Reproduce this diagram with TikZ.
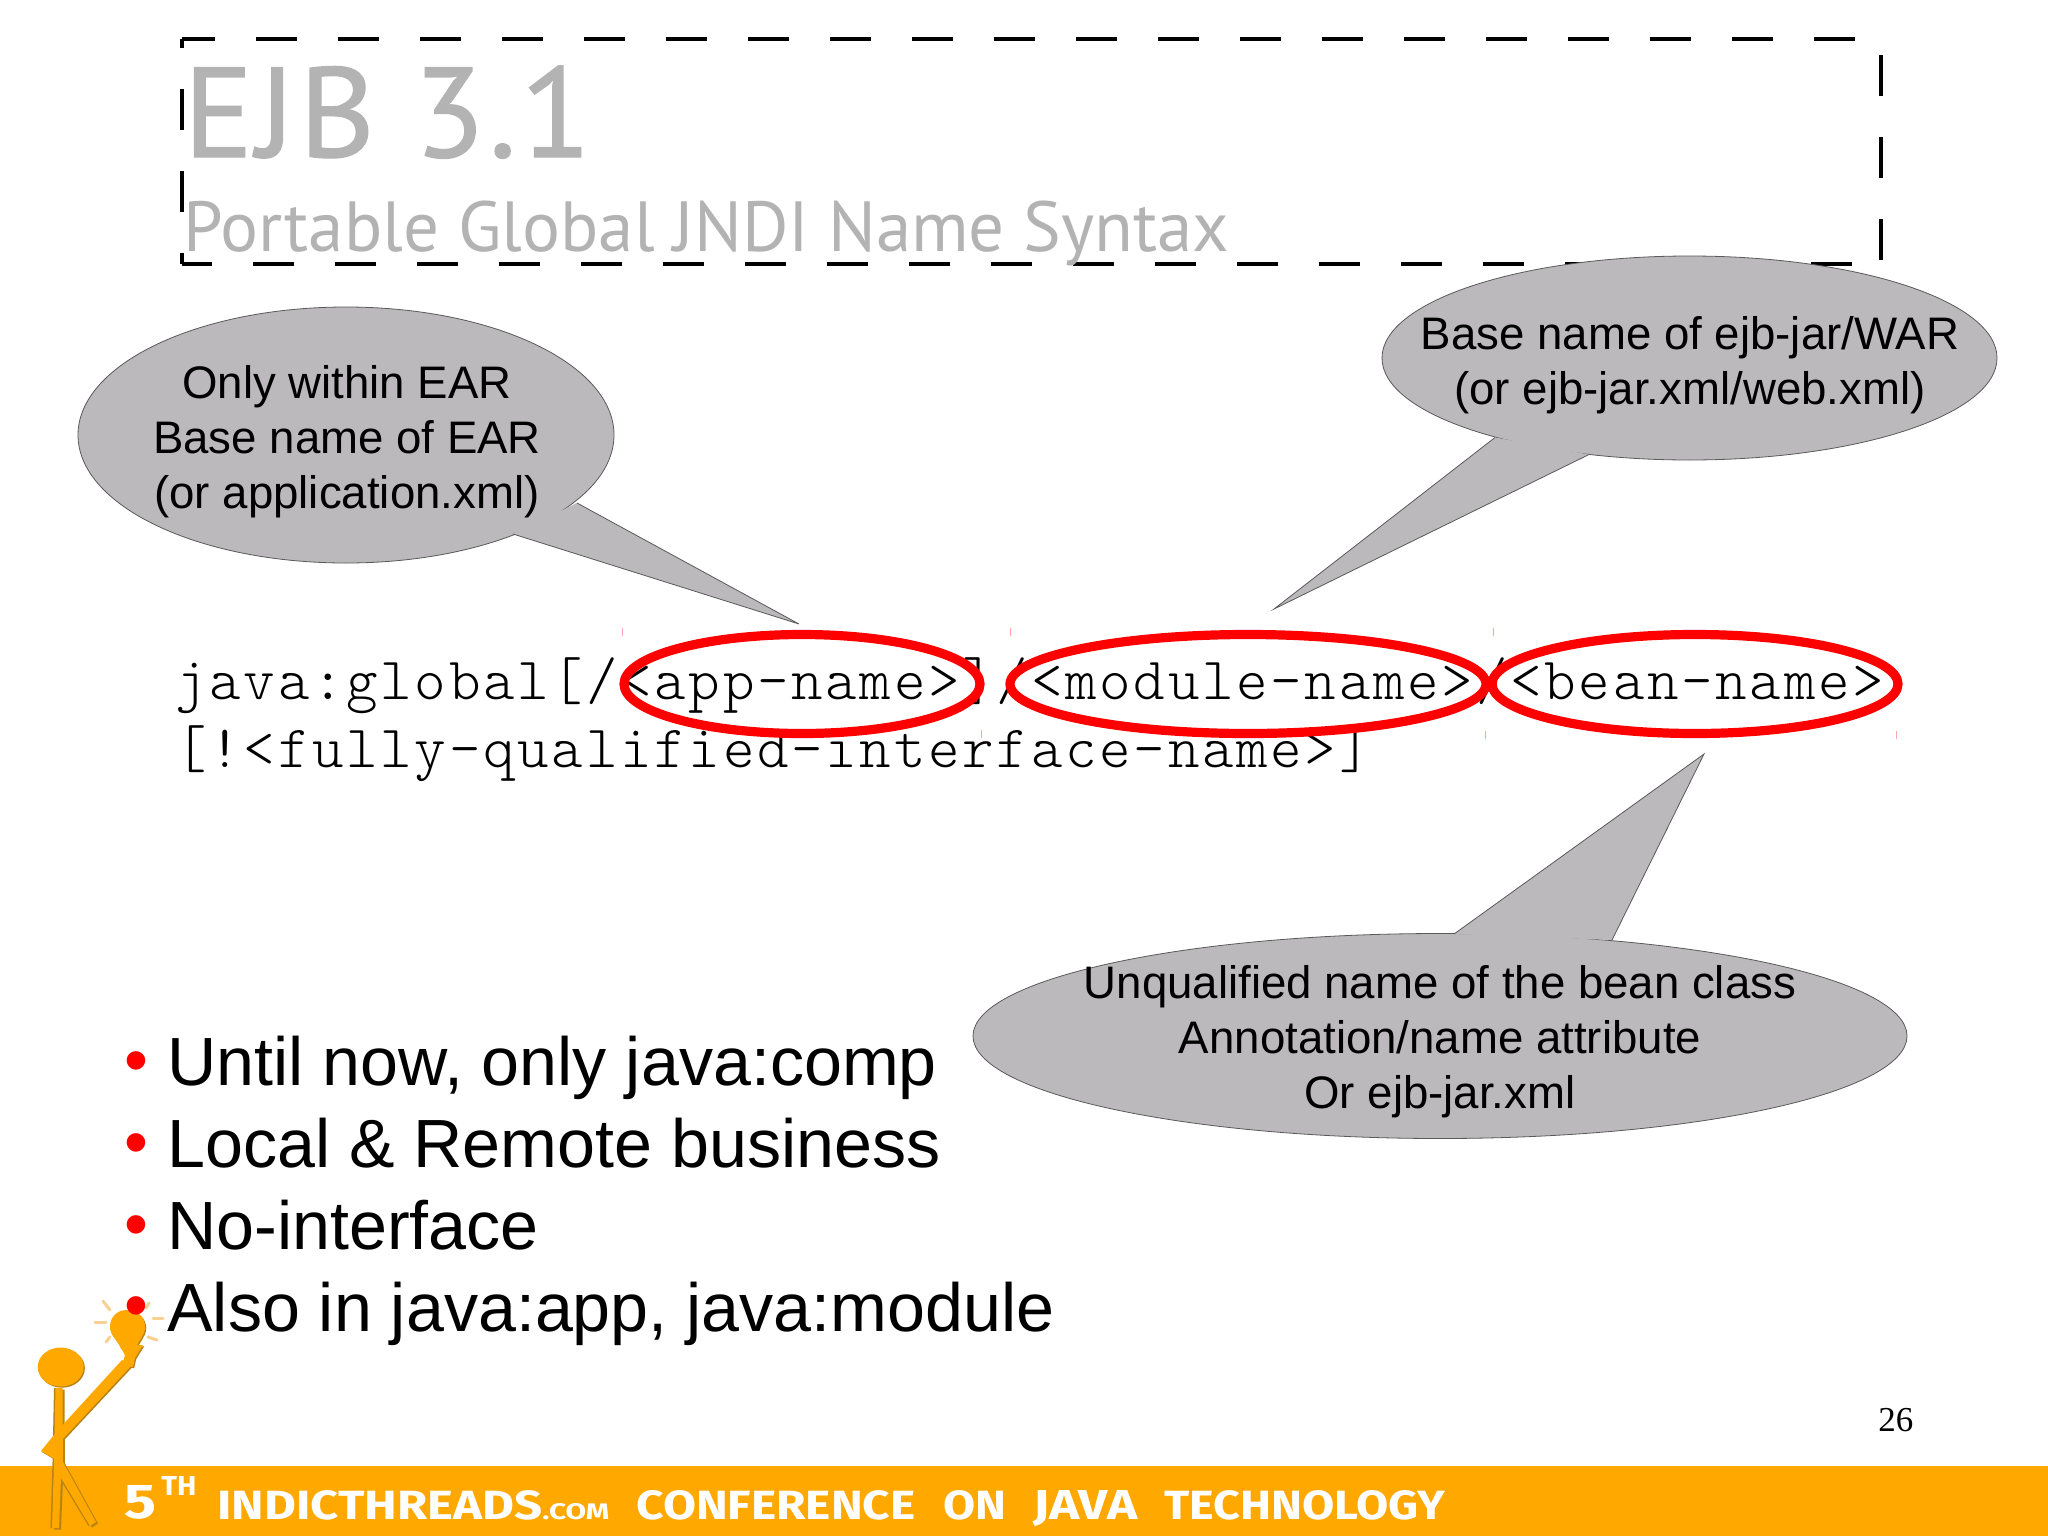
\documentclass[tikz,border=0pt]{standalone}
\usepackage{fontspec}
\usepackage{graphicx}
\usetikzlibrary{shapes.geometric}
\setmainfont{Liberation Sans}
\newfontfamily\titlefont[LetterSpace=3,FakeBold=1]{PT Sans}
\newfontfamily\subtitlefont{PT Sans}
\newfontfamily\numfont{Liberation Serif}
\newfontfamily\footfont{Fira Sans}
\newfontfamily\codefont[LetterSpace=4.55]{Latin Modern Mono Light}
\definecolor{titlegray}{HTML}{B3B3B3}
\definecolor{callgray}{HTML}{BBB9BB}
\definecolor{callline}{HTML}{5A5A5A}
\definecolor{bar}{HTML}{FFA800}
\definecolor{figdark}{HTML}{B98214}
\definecolor{figlight}{HTML}{F8D090}
\newcommand{\fw}[3]{\resizebox{#1pt}{#2pt}{\footfont\bfseries #3}}
\newcommand{\figlegs}{%
  \fill (55.5,1388) -- (62.5,1388) -- (63,1462) -- (96,1522) -- (90,1526) -- (61,1478) -- (59,1528) -- (52,1528) -- (54,1462) -- cycle;
}
\newcommand{\figtop}{%
  \fill (60.7,1367) ellipse [x radius=23,y radius=19.5];
  \fill (122,1360) -- (58,1430) -- (41,1451) -- (58,1461) -- (61,1441) -- (132,1365) -- cycle;
  \fill (120,1346) -- (143,1345) -- (135,1358) -- (133,1367) -- (122,1365) -- (125,1355) -- cycle;
  \fill (127,1310) .. controls (138,1310) and (145,1318) .. (145,1327) .. controls (145,1336) and (138,1340) .. (136,1349) -- (121,1349) .. controls (118,1340) and (110,1336) .. (110,1327) .. controls (110,1318) and (116,1310) .. (127,1310) -- cycle;
}
\tikzset{
  dashside/.style={draw=black,line width=2pt,dash pattern=on 20.5pt off 20.5pt,dash phase=#1},
  callout/.style={ellipse,draw=callline,line width=0.4pt,fill=callgray,inner sep=0pt},
  calltext/.style={align=center,inner sep=0pt,font=\fontsize{22.8}{27.5}\selectfont},
  tailfill/.style={fill=callgray},
  tailedge/.style={draw=callline,line width=0.4pt},
  monotext/.style={anchor=base west,inner sep=0pt,font=\codefont\fontsize{30}{36}\selectfont},
  redring/.style={ellipse,draw=red,line width=4.6pt,inner sep=0pt},
  bullettext/.style={anchor=base west,inner sep=0pt,font=\fontsize{34.1}{38}\selectfont},
  bulletdot/.style={anchor=base,inner sep=0pt,text=red,font=\fontsize{34.1}{38}\selectfont},
  footword/.style={anchor=base west,inner sep=0pt,text=white},
  tick/.style={draw=red!35,line width=0.5pt},
  ray/.style={draw=figlight,line width=1.5pt,line cap=round}
}
\begin{document}
\begin{tikzpicture}[x=0.5pt,y=-0.5pt]
\useasboundingbox (0,0) rectangle (2048,1536);
\fill[white] (0,0) rectangle (2048,1536);

% dashed title placeholder
\coordinate (tl) at (181.5,39);
\coordinate (tr) at (1881,39);
\coordinate (bl) at (181.5,264);
\coordinate (br) at (1881,264);
\draw[dashside=3.75pt] (tl) -- (tr);
\draw[dashside=16pt] (tl) -- (bl);
\draw[dashside=5.25pt] (bl) -- (br);
\draw[dashside=33pt] (tr) -- (br);

% title
\node[anchor=base west,inner sep=0pt,text=titlegray,font=\titlefont\fontsize{64}{70}\selectfont] (title) at (183,157) {\scalebox{1.018}[1]{EJB 3.1}};
\node[anchor=base west,inner sep=0pt,text=titlegray,font=\subtitlefont\fontsize{35.5}{40}\selectfont] (subtitle) at (183,251) {Portable Global JNDI Name Syntax};

% footer bar
\fill[bar] (0,1466) rectangle (2048,1536);

% code
\node[monotext] (code1) at (175,699.5) {java:global[/<app-name>]/<module-name>/<bean-name>};
\node[monotext] (code2) at (175,767.5) {[!<fully-qualified-interface-name>]};

% red rings
\node[redring,minimum width=178pt,minimum height=49.5pt] (ring1) at (802,684) {};
\node[redring,minimum width=238pt,minimum height=49.5pt] (ring2) at (1248,684) {};
\node[redring,minimum width=203pt,minimum height=49.5pt] (ring3) at (1695,684) {};

% faint marks
\draw[tick] (622,628) -- (622,636);
\draw[tick] (1010,628) -- (1010,636);
\draw[tick] (1493,628) -- (1493,636);
\draw[tick] (981,730) -- (981,738);
\draw[tick] (1485,731) -- (1485,739);
\draw[tick] (1896,731) -- (1896,739);

% callouts
\node[callout,minimum width=268pt,minimum height=128pt] (e1) at (346,435) {};
\coordinate (t1a) at (577,503); \coordinate (t1b) at (799,624); \coordinate (t1c) at (513,534);
\fill[tailfill] (t1a) -- (t1b) -- (t1c) -- cycle;
\draw[tailedge] (t1a) -- (t1b) -- (t1c);
\node[calltext] (e1t) at (347,441.5) {Only within EAR\\Base name of EAR\\(or application.xml)};

\node[callout,minimum width=307.5pt,minimum height=102pt] (e2) at (1689.5,358) {};
\coordinate (t2a) at (1495,437.5); \coordinate (t2b) at (1274,609); \coordinate (t2c) at (1589,454.5);
\fill[tailfill] (t2a) -- (t2b) -- (t2c) -- cycle;
\draw[tailedge] (t2a) -- (t2b) -- (t2c);
\node[calltext] (e2t) at (1690,365) {Base name of ejb-jar/WAR\\(or ejb-jar.xml/web.xml)};

\node[callout,minimum width=467pt,minimum height=102.5pt] (e3) at (1440,1036) {};
\coordinate (t3a) at (1454,934); \coordinate (t3b) at (1704,754); \coordinate (t3c) at (1612,940);
\fill[tailfill] (t3a) -- (t3b) -- (t3c) -- cycle;
\draw[tailedge] (t3a) -- (t3b) -- (t3c);
\node[calltext] (e3t) at (1440,1042) {Unqualified name of the bean class\\Annotation/name attribute\\Or ejb-jar.xml};

% stick figure
\begin{scope}[shift={(2,1.5)},color=figdark]
\figlegs
\end{scope}
\begin{scope}[shift={(-1.5,0)},color=figdark]
\figlegs
\end{scope}
\begin{scope}[shift={(1.2,1.2)},color=figdark]
\figtop
\end{scope}
\begin{scope}[color=bar]
\figlegs
\figtop
\end{scope}
\draw[ray] (103,1301) -- (110,1310);
\draw[ray] (95,1322) -- (106,1322);
\draw[ray] (149,1303) -- (146,1308);
\draw[ray] (153,1318) -- (163,1318);
\draw[ray] (148,1337) -- (157,1340);
\draw[ray] (106,1342) -- (110,1337);

% bullets
\node[bulletdot] (b1) at (136,1083) {•};
\node[bulletdot] (b2) at (136,1165) {•};
\node[bulletdot] (b3) at (136,1247) {•};
\node[bulletdot] (b4) at (136,1328) {•};
\node[bullettext] (l1) at (167,1085) {Until now, only java:comp};
\node[bullettext] (l2) at (167,1167) {Local \& Remote business};
\node[bullettext] (l3) at (167,1249) {No-interface};
\node[bullettext] (l4) at (167,1331) {Also in java:app, java:module};

% page number
\node[anchor=base west,inner sep=0pt,font=\numfont\fontsize{17.5}{20}\selectfont] (page) at (1878,1431) {26};

% footer text
\node[footword] (f5) at (124,1518) {\fw{16}{16.5}{5}};
\node[footword] (fth) at (161,1495) {\fw{17.5}{9.5}{TH}};
\node[footword] (f1) at (217,1519) {\fw{162.5}{14.5}{INDICTHREADS}};
\node[footword] (f2) at (542,1519) {\fw{33.5}{8}{.COM}};
\node[footword] (f3) at (636,1519) {\fw{139.5}{14.5}{CONFERENCE}};
\node[footword] (f4) at (943,1519) {\fw{31.5}{14.5}{ON}};
\node[footword] (f6) at (1033,1519) {\fw{52}{14.5}{JAVA}};
\node[footword] (f7) at (1164,1519) {\fw{140.5}{14.5}{TECHNOLOGY}};
\end{tikzpicture}
\end{document}
